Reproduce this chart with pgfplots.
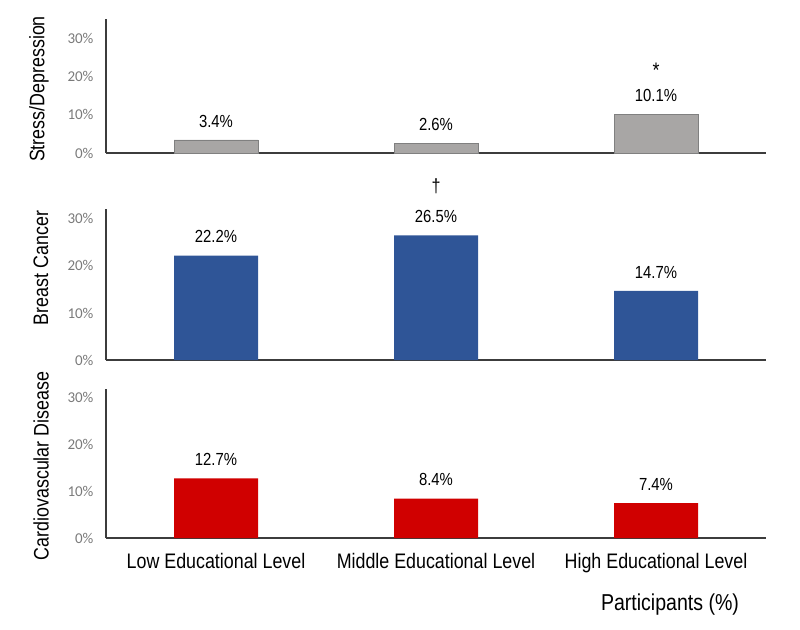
\documentclass[border=0pt]{standalone}
\usepackage{fontspec}
\setmainfont{Liberation Sans}[FakeStretch=0.85]
\newfontfamily\tickfont{Carlito}
\usepackage{pgfplots}
\pgfplotsset{compat=1.18}
\definecolor{bargray}{HTML}{A8A6A5}
\definecolor{bargrayedge}{HTML}{808080}
\definecolor{barblue}{HTML}{2F5597}
\definecolor{barred}{HTML}{D00000}
\definecolor{axisline}{HTML}{3C3C3C}
\definecolor{ticktext}{HTML}{7A7A7A}
\pgfplotsset{
 panel/.style={
  scale only axis, width=660pt, xmin=-0.5, xmax=2.5, ymin=0,
  axis x line*=bottom, axis y line*=left,
  axis line style={axisline, line width=1.5pt},
  xtick={0,1,2}, xticklabels={}, ytick={0,10,20,30},
  yticklabels={0\%,10\%,20\%,30\%},
  major tick length=0pt,
  /pgf/number format/assume math mode=true,
  yticklabel style={font=\tickfont\fontsize{15}{16}\selectfont, text=ticktext, xshift=-9pt},
  ybar, bar width=84pt, clip=false,
  nodes near coords={\pgfmathprintnumber[fixed,precision=1,fixed zerofill,assume math mode=true]{\pgfplotspointmeta}\%},
  nodes near coords style={font=\fontsize{17.5}{19}\selectfont, text=black, yshift=9pt},
 }
}
\begin{document}
\begin{tikzpicture}
\useasboundingbox (0,0) rectangle (800pt,-629pt);
% Top panel: Stress/Depression
\begin{axis}[panel, at={(106pt,-153pt)}, anchor=south west, height=134pt, ymax=35]
\addplot[fill=bargray, draw=bargrayedge, line width=0.6pt] coordinates {(0,3.4) (1,2.6) (2,10.1)};
\node[font=\fontsize{21}{22}\selectfont] at (axis cs:2,21.5) {*};
\end{axis}
% Middle panel: Breast Cancer
\begin{axis}[panel, at={(106pt,-360pt)}, anchor=south west, height=151pt, ymax=32.1]
\addplot[fill=barblue, draw=none] coordinates {(0,22.2) (1,26.5) (2,14.7)};
\node[font=\fontsize{19}{20}\selectfont] at (axis cs:1,37.0) {†};
\end{axis}
% Bottom panel: Cardiovascular Disease
\begin{axis}[panel, at={(106pt,-538pt)}, anchor=south west, height=149pt, ymax=31.7,
  xticklabels={Low Educational Level, Middle Educational Level, High Educational Level},
  xticklabel style={font=\fontsize{21}{24}\selectfont, text=black, yshift=-12pt}]
\addplot[fill=barred, draw=none] coordinates {(0,12.7) (1,8.4) (2,7.4)};
\end{axis}
\node[rotate=90, font=\fontsize{21}{24}\selectfont] at (39pt,-89pt) {Stress/Depression};
\node[rotate=90, font=\fontsize{21}{24}\selectfont] at (41pt,-268pt) {Breast Cancer};
\node[rotate=90, font=\fontsize{21}{24}\selectfont] at (41pt,-466pt) {Cardiovascular Disease};
\node[font=\fontsize{23}{26}\selectfont] at (670pt,-605pt) {Participants (\%)};
\end{tikzpicture}
\end{document}
